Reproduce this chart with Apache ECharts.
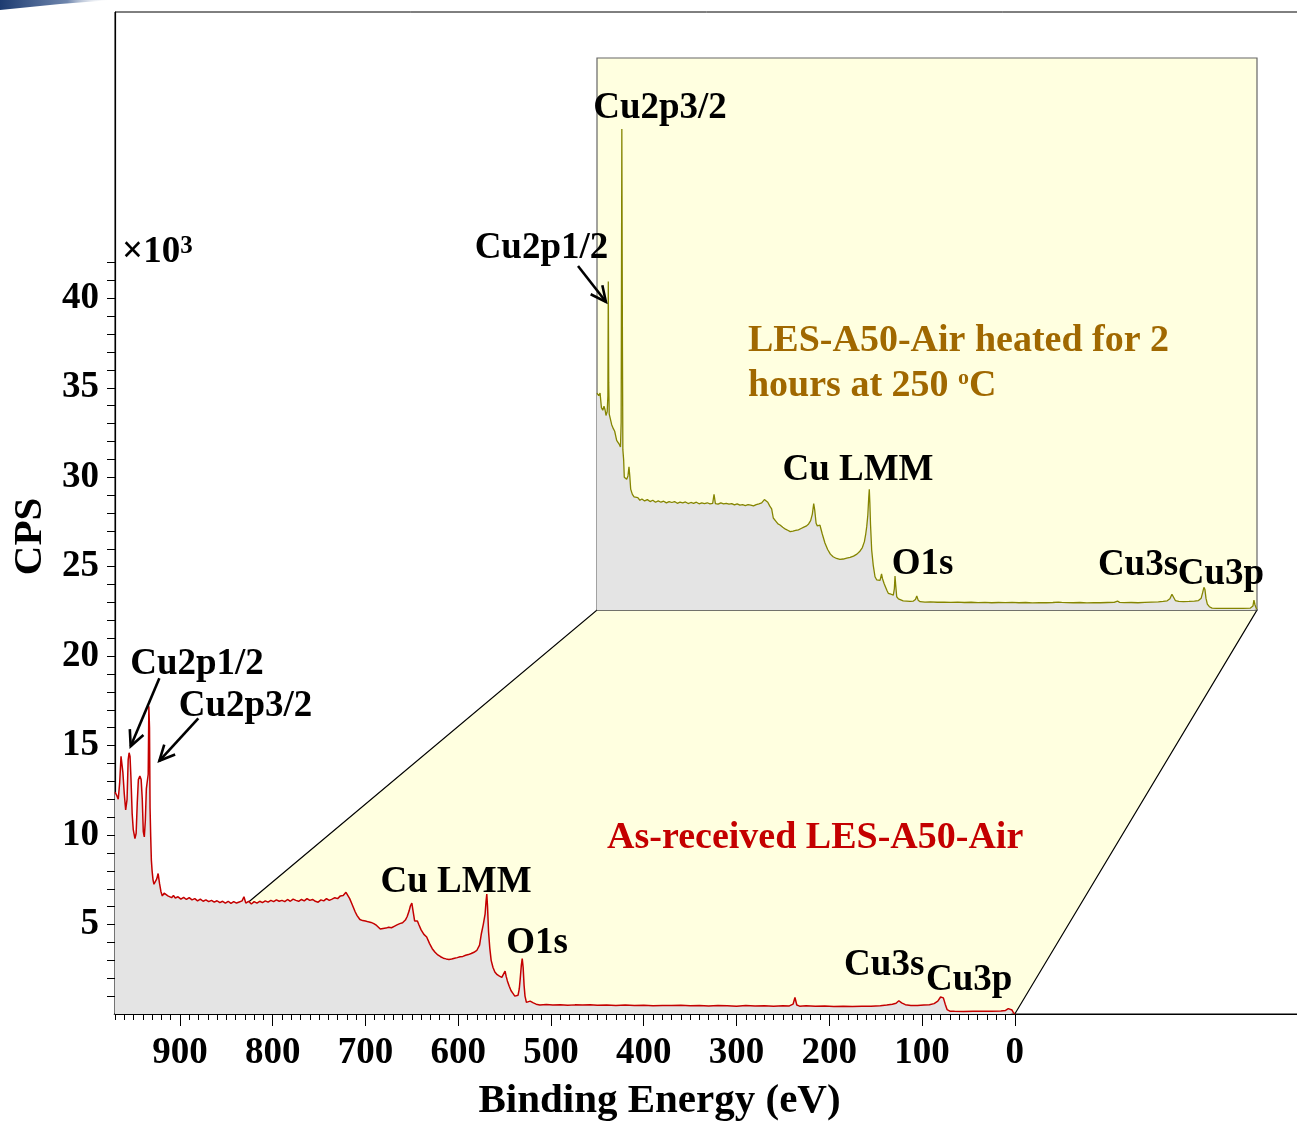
<!DOCTYPE html>
<html><head><meta charset="utf-8">
<script src="https://cdn.jsdelivr.net/npm/echarts@6/dist/echarts.min.js"></script>
<style>html,body{margin:0;padding:0;background:#fff;overflow:hidden}#c{width:1297px;height:1122px}</style>
</head><body><div id="c"></div>
<script>
// ---------- DATA (binding energy eV, CPS x10^3) ----------
const asReceivedSpectrum = [
[970,12.4],[968,12.2],[966.5,12.0],[965,12.9],[963.5,14.4],[962.5,14.5],[961.5,13.5],[960,12.3],[958.5,11.4],[957,12.0],[955.8,14.2],[954.8,14.6],[953.8,14.4],[952.8,13.2],[951.5,11.2],[950.3,10.3],[948.5,9.8],[947.2,10.1],[946,11.8],[944.8,13.1],[943.2,13.3],[941.8,13.1],[940.6,12.0],[939.5,10.2],[938.4,9.9],[937.3,10.8],[936.2,12.6],[935.2,12.5],[934.2,13.4],[933.5,17.2],[932.8,16.0],[932.2,11.5],[931.5,9.9],[930.8,8.6],[930,8.0],[929,7.5],[928,7.25],[926.5,7.3],[925,7.55],[923.5,7.85],[922,7.3],[920.5,6.85],[919,6.6],[917,6.75],[915,6.8],[913,6.6],[911,6.65],[909,6.5],[907,6.62],[905,6.48],[902,6.55],[899,6.42],[896,6.52],[893,6.4],[890,6.5],[887,6.38],[884,6.45],[881,6.32],[878,6.42],[875,6.3],[872,6.38],[869,6.28],[866,6.35],[863,6.25],[860,6.33],[857,6.22],[854,6.3],[851,6.2],[848,6.3],[845,6.18],[842,6.28],[839,6.2],[836,6.26],[833,6.32],[831,6.55],[829,6.2],[826,6.3],[823,6.15],[820,6.28],[817,6.2],[814,6.3],[811,6.22],[808,6.32],[805,6.25],[802,6.35],[799,6.28],[796,6.38],[793,6.3],[790,6.35],[787,6.28],[784,6.4],[781,6.3],[778,6.42],[775,6.35],[772,6.3],[769,6.4],[766,6.32],[763,6.45],[760,6.35],[757,6.4],[754,6.3],[751,6.25],[748,6.38],[745,6.32],[742,6.45],[739,6.35],[736,6.42],[733,6.5],[730,6.45],[727,6.6],[724,6.62],[721,6.8],[719,6.75],[717,6.45],[715,6.2],[713,5.95],[711,5.7],[709,5.5],[706,5.28],[703,5.22],[700,5.2],[697,5.15],[694,5.12],[691,5.05],[688,4.95],[686,4.85],[684,4.75],[681,4.78],[678,4.8],[675,4.85],[672,4.82],[669,4.9],[666,4.98],[663,5.05],[660,5.1],[657,5.25],[655,5.45],[653,5.75],[651.5,6.05],[650,6.2],[648.5,5.7],[647,5.2],[645.5,5.1],[644,5.2],[642.5,5.0],[640,4.7],[637,4.45],[634,4.3],[631,3.95],[628,3.65],[625,3.45],[622,3.3],[619,3.2],[616,3.12],[613,3.08],[610,3.05],[607,3.07],[604,3.12],[601,3.15],[598,3.2],[595,3.22],[592,3.28],[589,3.32],[586,3.38],[583,3.45],[580,3.55],[577,3.85],[575,4.5],[573,5.0],[571,5.6],[570,6.3],[569.2,6.7],[568.4,6.0],[567.3,4.6],[566,3.7],[564.5,3.0],[562.5,2.6],[560.5,2.35],[558,2.2],[555.5,2.12],[553,2.05],[551,2.15],[549.5,2.4],[548.3,2.1],[547,1.85],[545,1.55],[543,1.3],[541,1.15],[539,1.0],[537,0.9],[535.5,1.05],[534.2,1.4],[533.2,1.95],[532,2.7],[531,3.1],[530,2.6],[529,1.6],[528,1.0],[526.5,0.65],[524.5,0.62],[522.5,0.72],[521,0.76],[519,0.62],[516,0.55],[512,0.5],[505,0.53],[498,0.5],[490,0.52],[482,0.49],[474,0.51],[466,0.5],[458,0.52],[450,0.49],[440,0.5],[430,0.48],[420,0.5],[410,0.47],[400,0.49],[390,0.46],[380,0.48],[370,0.47],[360,0.49],[350,0.46],[340,0.48],[330,0.45],[320,0.47],[310,0.46],[300,0.44],[290,0.47],[280,0.45],[270,0.46],[260,0.44],[250,0.46],[243,0.45],[239,0.55],[237,0.92],[235,0.5],[232,0.44],[225,0.46],[215,0.43],[205,0.45],[195,0.42],[185,0.44],[175,0.42],[165,0.44],[155,0.43],[145,0.46],[138,0.5],[132,0.55],[128,0.6],[125,0.74],[122,0.62],[118,0.52],[112,0.48],[105,0.47],[98,0.5],[92,0.52],[87,0.58],[83,0.72],[80,0.95],[78.5,1.02],[77,0.9],[75,0.55],[73,0.25],[70,0.16],[65,0.15],[55,0.14],[45,0.16],[35,0.15],[25,0.16],[15,0.17],[10,0.2],[7,0.3],[5,0.36],[3,0.22],[1.5,0.08],[0,0.0]
];
const heatedSpectrum = [
[970,16.5],[967.5,16.3],[965.5,16.5],[963.5,15.4],[961.5,15.2],[959.7,15.5],[958,15.2],[956.8,14.8],[955,15.1],[954,16.3],[953.4,25.0],[952.8,17.3],[952,14.9],[950.5,14.8],[948.4,14.1],[946,13.8],[944,13.6],[941.1,12.9],[939,12.8],[937.2,12.6],[935.5,12.4],[934.5,14.3],[933.5,36.6],[932.6,20.0],[932,12.2],[930.8,11.4],[929.9,10.1],[928,10.0],[926.4,9.95],[924.5,10.2],[923,10.9],[921.8,10.2],[920.5,9.2],[918,8.8],[915.5,8.6],[913,8.45],[910,8.55],[907,8.35],[904,8.45],[900,8.3],[896,8.4],[892,8.25],[888,8.35],[884,8.2],[880,8.3],[876,8.2],[872,8.28],[868,8.15],[864,8.25],[860,8.18],[856,8.25],[852,8.12],[848,8.2],[844,8.15],[840,8.22],[836,8.1],[832,8.18],[828,8.12],[824,8.2],[820,8.08],[816,8.15],[812,8.1],[808,8.16],[804,8.08],[800,8.12],[798,8.8],[796,8.1],[792,8.05],[788,8.15],[784,8.08],[780,8.12],[776,8.05],[772,8.1],[768,8.0],[764,8.08],[760,7.98],[756,8.02],[752,7.95],[748,8.02],[744,7.98],[740,7.92],[736,8.02],[732,8.08],[728,8.15],[724,8.4],[722,8.5],[719,8.2],[716,7.9],[713.3,7.7],[710.9,7.0],[707,6.75],[704,6.55],[701,6.47],[697,6.3],[693,6.15],[689,6.05],[686,5.96],[682,6.0],[678,6.05],[674,6.1],[670,6.2],[666,6.3],[662,6.4],[659,6.55],[656,6.8],[653.5,7.3],[651.5,8.1],[650,7.6],[648,6.6],[646.2,6.4],[644,6.55],[642.3,6.45],[639,5.8],[635,5.1],[631,4.6],[627,4.25],[623,4.05],[618,3.92],[613,3.85],[608,3.88],[603,3.95],[598,4.0],[593,4.1],[588,4.25],[584,4.45],[580,4.75],[577,5.2],[575,5.8],[573.6,6.34],[572,7.2],[570.6,8.6],[569.8,9.18],[569,8.2],[568,6.5],[566.3,4.56],[564,3.4],[561.4,2.53],[559,2.3],[556.6,2.15],[554,2.25],[551.8,2.74],[550.5,2.4],[548.2,2.03],[546,1.75],[544,1.5],[541.9,1.27],[538,1.2],[534.5,1.14],[533,1.6],[532,2.59],[531,1.9],[529.5,1.01],[527,0.85],[524.7,0.76],[520,0.7],[515,0.68],[510,0.66],[505,0.68],[502,0.8],[500,1.07],[498,0.75],[495,0.63],[488,0.6],[480,0.62],[470,0.59],[460,0.6],[450,0.58],[440,0.6],[430,0.57],[420,0.59],[410,0.56],[400,0.58],[390,0.55],[380,0.57],[370,0.56],[360,0.58],[350,0.55],[340,0.57],[330,0.54],[320,0.56],[310,0.55],[300,0.57],[292,0.6],[290,0.68],[287,0.58],[280,0.56],[270,0.55],[260,0.57],[250,0.54],[240,0.56],[230,0.55],[220,0.57],[210,0.58],[205,0.68],[202,0.58],[195,0.56],[185,0.57],[175,0.55],[165,0.58],[155,0.6],[145,0.62],[138,0.66],[132,0.7],[128,0.85],[125,1.2],[123,1.05],[120,0.72],[115,0.66],[108,0.64],[100,0.65],[92,0.67],[86,0.72],[82,0.9],[80,1.3],[78,1.72],[76.5,1.55],[75,0.9],[73,0.45],[70,0.25],[66,0.14],[60,0.13],[50,0.12],[40,0.13],[30,0.12],[20,0.13],[10,0.14],[6,0.3],[4.5,0.75],[3,0.4],[1,0.12],[0,0.1]
];
const xMajorTicks = [0,100,200,300,400,500,600,700,800,900];
const xMinorTicks = []; for (let v = 0; v <= 970; v += 10) xMinorTicks.push(v);
const yTickLabels = [5,10,15,20,25,30,35,40];
const yTicks = []; for (let v = 1; v <= 42; v++) yTicks.push(v);
// annotation anchors: [text, eV, CPS]
const frontLabels = [
  ['Cu2p1/2', 881.6, 19.78], ['Cu2p3/2', 829.3, 17.43], ['Cu LMM', 602.3, 7.6],
  ['O1s', 515, 4.19], ['Cu3s', 140.8, 2.93], ['Cu3p', 49.2, 2.12]
];
const backLabels = [
  ['Cu2p3/2', 877.4, 38.5], ['Cu2p1/2', 1051.6, 27.85], ['Cu LMM', 586.4, 10.96],
  ['O1s', 491.6, 3.8], ['Cu3s', 174.9, 3.73], ['Cu3p', 52.9, 3.04]
];
const frontArrows = [[[922.2,18.77],[953.1,14.97]], [[880.2,16.52],[922.2,14.15]]];
const backArrows = [[[997.9,26.17],[956.9,23.45]]];
const seriesNames = ['As-received LES-A50-Air', 'LES-A50-Air heated for 2 hours at 250 oC'];

// ---------- CHART ----------
const FONT = 'Liberation Serif';
const RED = '#c40000', OLIVE = '#858500', BROWN = '#a06800', YELLOW = '#ffffe0', GRAY = '#e4e4e4';
const chart = echarts.init(document.getElementById('c'));
const txt = (size) => ({fontFamily: FONT, fontWeight: 'bold', fontSize: size, color: '#000'});

chart.setOption({
  animation: false,
  backgroundColor: '#fff',
  grid: [
    {left: 115, right: -10, top: 12, bottom: 108, show: true, borderColor: '#000', borderWidth: 1, backgroundColor: 'transparent', containLabel: false, outerBoundsMode: 'none'},
    {left: 597, width: 660, top: 58, height: 552, show: false, containLabel: false, outerBoundsMode: 'none'}
  ],
  xAxis: [
    {gridIndex: 0, type: 'value', min: -315, max: 970, inverse: true, position: 'bottom',
     axisLine: {show: true, onZero: false, lineStyle: {color: '#000', width: 1.2}},
     axisTick: {show: true, customValues: xMajorTicks, length: 12, lineStyle: {color: '#000', width: 1}},
     axisLabel: {show: true, customValues: xMajorTicks, margin: 21, ...txt(37)},
     splitLine: {show: false},
     name: 'Binding Energy (eV)', nameLocation: 'middle', nameGap: 67, nameMoveOverlap: false,
     nameTextStyle: {...txt(41), padding: [0, 103, 0, 0]}},
    {gridIndex: 0, type: 'value', min: -315, max: 970, inverse: true, position: 'bottom',
     axisLine: {show: false, onZero: false}, axisLabel: {show: false}, splitLine: {show: false},
     axisTick: {show: true, customValues: xMinorTicks, length: 6, lineStyle: {color: '#000', width: 1}}},
    {gridIndex: 1, type: 'value', min: 0, max: 970, inverse: true, show: false, axisLine: {onZero: false}, splitLine: {show: false}}
  ],
  yAxis: [
    {gridIndex: 0, type: 'value', min: 0, max: 56,
     axisLine: {show: true, onZero: false, lineStyle: {color: '#000', width: 1.2}},
     axisTick: {show: true, customValues: yTicks, length: 8, lineStyle: {color: '#000', width: 1}},
     axisLabel: {show: true, customValues: yTickLabels, margin: 16, ...txt(37)},
     splitLine: {show: false},
     name: 'CPS', nameLocation: 'middle', nameGap: 64, nameRotate: 90, nameMoveOverlap: false,
     nameTextStyle: {...txt(41), padding: [0, 47, 0, 0]}},
    {gridIndex: 1, type: 'value', min: 0, max: 42, show: false, axisLine: {onZero: false}, splitLine: {show: false}}
  ],
  series: [
    {name: seriesNames[1], type: 'line', xAxisIndex: 2, yAxisIndex: 1, data: heatedSpectrum,
     showSymbol: false, symbol: 'none', z: 4, lineStyle: {color: OLIVE, width: 1.3},
     areaStyle: {color: GRAY, opacity: 1}},
    {name: seriesNames[0], type: 'line', xAxisIndex: 0, yAxisIndex: 0, data: asReceivedSpectrum,
     showSymbol: false, symbol: 'none', z: 5, lineStyle: {color: RED, width: 1.5},
     areaStyle: {color: GRAY, opacity: 1}}
  ]
});

function p0(pt) { return chart.convertToPixel({xAxisIndex: 0, yAxisIndex: 0}, pt); }
function p1(pt) { return chart.convertToPixel({xAxisIndex: 2, yAxisIndex: 1}, pt); }

const g = [];
// decorative swoosh in the top-left corner
g.push({type: 'polygon', z: 1, shape: {points: [[0,0],[112,0],[60,4],[0,10]]},
  style: {fill: new echarts.graphic.LinearGradient(0,0,1,0,[{offset:0,color:'#1d3b70'},{offset:0.6,color:'#6f86ad'},{offset:1,color:'rgba(255,255,255,0)'}])}});
// floor (perspective plane)
const fL = p0([970, 0]), fR = p0([0, 0]), bL = p1([970, 0]), bR = p1([0, 0]);
g.push({type: 'polygon', z: 1, shape: {points: [fL, fR, bR, bL]},
  style: {fill: YELLOW, stroke: '#000', lineWidth: 1.2}});
// back panel
const tl = p1([970, 42]);
g.push({type: 'rect', z: 2, shape: {x: tl[0], y: tl[1], width: bR[0] - tl[0], height: bR[1] - tl[1]},
  style: {fill: YELLOW, stroke: '#666', lineWidth: 1.2}});

const DY = 4; // baseline nudge for serif glyphs
function addText(t, pt, opts) {
  g.push({type: 'text', z: 20, x: pt[0], y: pt[1] + DY,
    style: Object.assign({text: t, fontFamily: FONT, fontWeight: 'bold', fontSize: 37, fill: '#000',
      align: 'center', verticalAlign: 'middle'}, opts || {})});
}
function addArrow(a, b) {
  const dx = b[0] - a[0], dy = b[1] - a[1], L = Math.hypot(dx, dy);
  const bx = -dx / L, by = -dy / L, h = 17, th = 0.45;
  const r = (t) => [b[0] + h * (bx * Math.cos(t) - by * Math.sin(t)), b[1] + h * (bx * Math.sin(t) + by * Math.cos(t))];
  g.push({type: 'line', z: 20, shape: {x1: a[0], y1: a[1], x2: b[0], y2: b[1]}, style: {stroke: '#000', lineWidth: 2.6}});
  g.push({type: 'polyline', z: 20, shape: {points: [r(th), b, r(-th)]}, style: {stroke: '#000', lineWidth: 2.6, fill: null}});
}
frontLabels.forEach(l => addText(l[0], p0([l[1], l[2]])));
backLabels.forEach(l => addText(l[0], p1([l[1], l[2]])));
frontArrows.forEach(a => addArrow(p0(a[0]), p0(a[1])));
backArrows.forEach(a => addArrow(p1(a[0]), p1(a[1])));
addText(seriesNames[0], p0([215.2, 10.06]), {fill: RED, fontSize: 38});
addText('LES-A50-Air heated for 2', p1([748.1, 20.77]), {fill: BROWN, align: 'left', fontSize: 38});
addText('hours at 250 {s|o}C', p1([748.1, 17.35]), {fill: BROWN, align: 'left', fontSize: 38,
  rich: {s: {fontFamily: FONT, fontWeight: 'bold', fontSize: 22, fill: BROWN, verticalAlign: 'top', padding: [0, 0, 12, 0]}}});
addText('×10{s|3}', p0([962.4, 42.8]), {align: 'left', fontSize: 37,
  rich: {s: {fontFamily: FONT, fontWeight: 'bold', fontSize: 25, fill: '#000', verticalAlign: 'top', padding: [0, 0, 10, 0]}}});

chart.setOption({graphic: g});
</script>
</body></html>
